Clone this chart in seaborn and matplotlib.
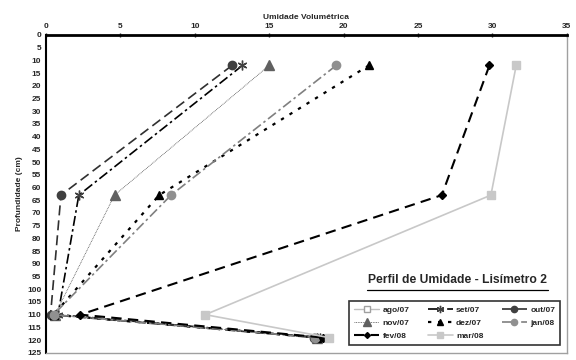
import numpy as np
import pandas as pd
import matplotlib
matplotlib.use("Agg")
import matplotlib.pyplot as plt
import seaborn as sns

depths = [12, 63, 110, 119]
series_names = ["ago/07", "set/07", "out/07", "nov/07", "dez/07", "jan/08", "fev/08", "mar/08"]
ago07 = [np.nan, np.nan, np.nan, np.nan]
set07 = [13.2, 2.2, 0.8, 18.4]
out07 = [12.5, 1.0, 0.3, 18.0]
nov07 = [15.0, 4.6, 0.6, 18.2]
dez07 = [21.7, 7.6, 0.5, 18.2]
jan08 = [19.5, 8.4, 0.5, 18.1]
fev08 = [29.8, 26.6, 2.3, 18.6]
mar08 = [31.6, 29.9, 10.7, 19.0]
values = [ago07, set07, out07, nov07, dez07, jan08, fev08, mar08]

x_ticks = [0, 5, 10, 15, 20, 25, 30, 35]
y_ticks = list(range(0, 130, 5))

styles = {
    "ago/07": dict(color="#c0c0c0", ls="-", marker="s", mfc="white", mec="#a0a0a0", ms=5, lw=1.0),
    "set/07": dict(color="black", ls=(0, (6, 2, 1.5, 2)), marker=(6, 2, 0), mfc="none", mec="#404040", ms=7, lw=1.2),
    "out/07": dict(color="#303030", ls=(0, (6, 3)), marker="o", mfc="#404040", mec="#404040", ms=6, lw=1.2),
    "nov/07": dict(color="#505050", ls=(0, (1, 1)), marker="^", mfc="#606060", mec="#606060", ms=7, lw=0.6),
    "dez/07": dict(color="black", ls=(0, (1.5, 3)), marker="^", mfc="black", mec="black", ms=6, lw=1.6),
    "jan/08": dict(color="#808080", ls=(0, (6, 2, 1.5, 2)), marker="o", mfc="#909090", mec="#909090", ms=6, lw=1.2),
    "fev/08": dict(color="black", ls=(0, (5, 3)), marker="D", mfc="black", mec="black", ms=4, lw=1.5),
    "mar/08": dict(color="#c8c8c8", ls="-", marker="s", mfc="#c8c8c8", mec="#c8c8c8", ms=6, lw=1.2),
}

sns.set_style("white")
plt.rcParams["font.family"] = ["Liberation Sans", "DejaVu Sans"]

fig = plt.figure(figsize=(5.76, 3.6), dpi=100)
ax = fig.add_axes([0.08, 0.02, 0.904, 0.883])

handles = {}
for name, vals in zip(series_names, values):
    df = pd.DataFrame({"umidade": vals, "prof": depths})
    st = styles[name]
    if df["umidade"].isna().all():
        h, = ax.plot([], [], label=name, color=st["color"], linestyle=st["ls"], lw=st["lw"],
                     marker=st["marker"], mfc=st["mfc"], mec=st["mec"], ms=st["ms"])
        handles[name] = h
        continue
    sns.lineplot(data=df, x="umidade", y="prof", ax=ax, sort=False, estimator=None,
                 label=name, color=st["color"], linestyle=st["ls"], linewidth=st["lw"],
                 marker=st["marker"], markerfacecolor=st["mfc"], markeredgecolor=st["mec"],
                 markersize=st["ms"], markeredgewidth=1.0)
    handles[name] = ax.lines[-1]

ax.set_xlim(0, 35)
ax.set_ylim(125, 0)
ax.set_xticks(x_ticks)
ax.set_yticks(y_ticks)
ax.xaxis.tick_top()
ax.xaxis.set_label_position("top")
ax.tick_params(axis="both", labelsize=6, length=3, width=1, direction="inout", pad=2)
for lab in ax.get_xticklabels() + ax.get_yticklabels():
    lab.set_fontweight("bold")
ax.set_xlabel("Umidade Volumétrica", fontsize=6, fontweight="bold", labelpad=3)
ax.set_ylabel("Profundidade (cm)", fontsize=6, fontweight="bold", labelpad=3)

ax.spines["top"].set_linewidth(2.0)
ax.spines["top"].set_color("black")
ax.spines["left"].set_linewidth(1.5)
ax.spines["left"].set_color("black")
ax.spines["right"].set_color("#a0a0a0")
ax.spines["right"].set_linewidth(1.0)
ax.spines["bottom"].set_color("#a0a0a0")
ax.spines["bottom"].set_linewidth(1.0)
for s in ax.spines.values():
    s.set_visible(True)

ax.text(0.79, 0.228, "Perfil de Umidade - Lisímetro 2", transform=ax.transAxes,
        ha="center", va="center", fontsize=8.7, fontweight="bold")
# underline
ax.plot([0.617, 0.963], [0.198, 0.198], transform=ax.transAxes, color="black", lw=0.9)

order = ["ago/07", "nov/07", "fev/08", "set/07", "dez/07", "mar/08", "out/07", "jan/08"]
leg = ax.legend([handles[n] for n in order], order, loc="lower right",
                bbox_to_anchor=(0.995, 0.012), ncol=3, markerscale=0.75,
                frameon=True, fancybox=False, edgecolor="black", handlelength=3.0,
                columnspacing=2.2, labelspacing=0.6, borderpad=0.6, handletextpad=0.4,
                prop={"weight": "bold", "size": 6})
leg.get_frame().set_linewidth(1.2)

fig.savefig("out.png", dpi=100, facecolor="white")
